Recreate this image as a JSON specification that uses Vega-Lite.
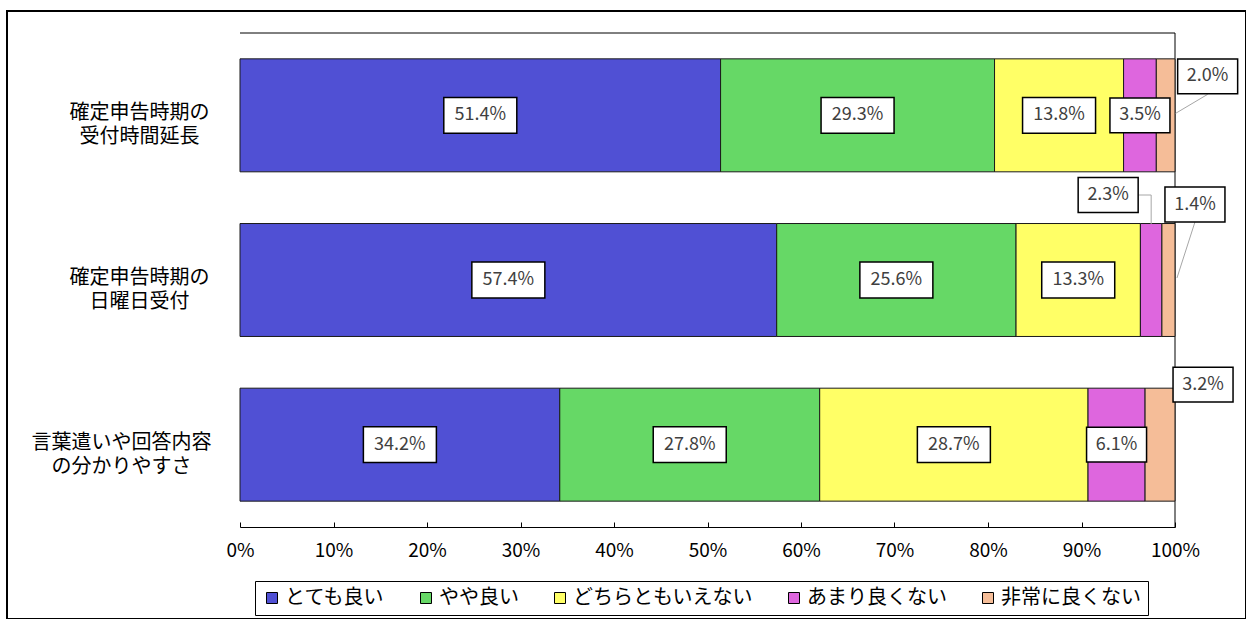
{
  "$schema": "https://vega.github.io/schema/vega-lite/v6.json",
  "width": 1239,
  "height": 608,
  "autosize": {"type": "none"},
  "padding": {"left": 7, "top": 11, "right": 0, "bottom": 0},
  "background": "#ffffff",
  "config": {
    "view": {"stroke": "#000000", "strokeWidth": 2},
    "font": "Noto Sans CJK JP"
  },
  "layer": [
    {
      "data": {"values": [{"k": 0}]},
      "layer": [
        {
          "mark": {"type": "rule", "color": "#000000", "strokeWidth": 1},
          "encoding": {
            "x": {"datum": 0, "type": "quantitative", "scale": {"domain": [0, 100], "range": [233, 1168], "nice": false, "zero": false}, "axis": null},
            "x2": {"datum": 100},
            "y": {"datum": 1, "type": "quantitative", "scale": {"domain": [0, 1], "range": [516, 22], "nice": false, "zero": false}, "axis": null}
          }
        },
        {
          "mark": {"type": "rule", "color": "#000000", "strokeWidth": 1},
          "encoding": {
            "x": {"datum": 100, "type": "quantitative", "scale": {"domain": [0, 100], "range": [233, 1168], "nice": false, "zero": false}, "axis": null},
            "y": {"datum": 0, "type": "quantitative", "scale": {"domain": [0, 1], "range": [516, 22], "nice": false, "zero": false}, "axis": null},
            "y2": {"datum": 1}
          }
        }
      ]
    },
    {
      "data": {
        "values": [
          {"q": 1, "cat": "確定申告時期の\n受付時間延長", "resp": "とても良い", "order": 1, "value": 51.4},
          {"q": 1, "cat": "確定申告時期の\n受付時間延長", "resp": "やや良い", "order": 2, "value": 29.3},
          {"q": 1, "cat": "確定申告時期の\n受付時間延長", "resp": "どちらともいえない", "order": 3, "value": 13.8},
          {"q": 1, "cat": "確定申告時期の\n受付時間延長", "resp": "あまり良くない", "order": 4, "value": 3.5},
          {"q": 1, "cat": "確定申告時期の\n受付時間延長", "resp": "非常に良くない", "order": 5, "value": 2.0},
          {"q": 2, "cat": "確定申告時期の\n日曜日受付", "resp": "とても良い", "order": 1, "value": 57.4},
          {"q": 2, "cat": "確定申告時期の\n日曜日受付", "resp": "やや良い", "order": 2, "value": 25.6},
          {"q": 2, "cat": "確定申告時期の\n日曜日受付", "resp": "どちらともいえない", "order": 3, "value": 13.3},
          {"q": 2, "cat": "確定申告時期の\n日曜日受付", "resp": "あまり良くない", "order": 4, "value": 2.3},
          {"q": 2, "cat": "確定申告時期の\n日曜日受付", "resp": "非常に良くない", "order": 5, "value": 1.4},
          {"q": 3, "cat": "言葉遣いや回答内容\nの分かりやすさ", "resp": "とても良い", "order": 1, "value": 34.2},
          {"q": 3, "cat": "言葉遣いや回答内容\nの分かりやすさ", "resp": "やや良い", "order": 2, "value": 27.8},
          {"q": 3, "cat": "言葉遣いや回答内容\nの分かりやすさ", "resp": "どちらともいえない", "order": 3, "value": 28.7},
          {"q": 3, "cat": "言葉遣いや回答内容\nの分かりやすさ", "resp": "あまり良くない", "order": 4, "value": 6.1},
          {"q": 3, "cat": "言葉遣いや回答内容\nの分かりやすさ", "resp": "非常に良くない", "order": 5, "value": 3.2}
        ]
      },
      "transform": [
        {"stack": "value", "groupby": ["q"], "sort": [{"field": "order", "order": "ascending"}], "as": ["v0", "v1"]},
        {"calculate": "(datum.v0 + datum.v1) / 2", "as": "mid"},
        {"calculate": "format(datum.value, '.1f') + '%'", "as": "lbl"}
      ],
      "encoding": {
        "y": {
          "field": "cat",
          "type": "nominal",
          "scale": {
            "type": "band",
            "domain": ["確定申告時期の\n受付時間延長", "確定申告時期の\n日曜日受付", "言葉遣いや回答内容\nの分かりやすさ"],
            "range": [22, 516],
            "paddingInner": 0.314,
            "paddingOuter": 0.157
          },
          "axis": {
            "title": null,
            "domain": false,
            "ticks": false,
            "tickSize": 0,
            "offset": -233,
            "labelAlign": "center",
            "labelBaseline": "middle",
            "labelPadding": {"condition": {"test": "indexof(datum.value, '言葉遣い') == 0", "value": 119}, "value": 101},
            "labelOffset": -2,
            "labelFont": "Noto Sans CJK JP",
            "labelFontSize": 20,
            "labelColor": "#000000",
            "labelLineHeight": 24,
            "labelLimit": 0,
            "labelExpr": "split(datum.label, '\\n')"
          }
        }
      },
      "layer": [
        {
          "mark": {"type": "bar", "stroke": "#1a1a1a", "strokeWidth": 1},
          "encoding": {
            "x": {
              "field": "v0",
              "type": "quantitative",
              "title": null,
              "scale": {"domain": [0, 100], "range": [233, 1168], "nice": false, "zero": false},
              "axis": {
                "title": null,
                "offset": -92,
                "values": [0, 10, 20, 30, 40, 50, 60, 70, 80, 90, 100],
                "labelExpr": "datum.value + '%'",
                "grid": false,
                "tickSize": -5,
                "tickColor": "#000000",
                "domainColor": "#000000",
                "labelPadding": 19,
                "labelFont": "Noto Sans CJK JP",
                "labelFontSize": 19,
                "labelColor": "#000000",
                "labelFlush": false,
                "labelOverlap": false
              }
            },
            "x2": {"field": "v1"},
            "color": {
              "field": "resp",
              "type": "nominal",
              "scale": {
                "domain": ["とても良い", "やや良い", "どちらともいえない", "あまり良くない", "非常に良くない"],
                "range": ["#5050d4", "#66d866", "#ffff66", "#de66de", "#f5bd98"]
              },
              "legend": {
                "title": null,
                "orient": "none",
                "legendX": 248,
                "legendY": 570,
                "direction": "horizontal",
                "padding": 7,
                "columnPadding": 31,
                "strokeColor": "#000000",
                "fillColor": "#ffffff",
                "symbolType": "square",
                "symbolSize": 121,
                "symbolStrokeColor": "#000000",
                "symbolStrokeWidth": 1,
                "labelFont": "Noto Sans CJK JP",
                "labelFontSize": 20,
                "labelColor": "#000000",
                "labelOffset": 3,
                "labelLimit": 0
              }
            }
          }
        },
        {
          "transform": [{"filter": "!(datum.order == 5 || (datum.q == 2 && datum.order == 4)) && datum.value >= 10"}],
          "mark": {"type": "point", "shape": "M-1,-0.49L1,-0.49L1,0.49L-1,0.49Z", "size": 5329, "filled": true, "fill": "#ffffff", "stroke": "#000000", "strokeWidth": 1.5, "opacity": 1, "fillOpacity": 1},
          "encoding": {"x": {"field": "mid", "type": "quantitative", "title": null}}
        },
        {
          "transform": [{"filter": "!(datum.order == 5 || (datum.q == 2 && datum.order == 4)) && datum.value < 10"}],
          "mark": {"type": "point", "shape": "M-1,-0.58L1,-0.58L1,0.58L-1,0.58Z", "size": 3600, "filled": true, "fill": "#ffffff", "stroke": "#000000", "strokeWidth": 1.5, "opacity": 1, "fillOpacity": 1},
          "encoding": {"x": {"field": "mid", "type": "quantitative", "title": null}}
        },
        {
          "transform": [{"filter": "!(datum.order == 5 || (datum.q == 2 && datum.order == 4))"}],
          "mark": {"type": "text", "align": "center", "baseline": "middle", "font": "Noto Sans CJK JP", "fontSize": 18, "color": "#404040"},
          "encoding": {"x": {"field": "mid", "type": "quantitative", "title": null}, "text": {"field": "lbl"}}
        },
        {
          "transform": [{"filter": "datum.q == 1 && datum.order == 5"}],
          "layer": [
            {
              "mark": {"type": "rule", "color": "#a6a6a6", "strokeWidth": 1, "xOffset": 10, "yOffset": -2, "x2Offset": 42, "y2Offset": -21},
              "encoding": {"x": {"field": "mid", "type": "quantitative", "title": null}, "x2": {"field": "mid"}, "y2": {"field": "cat"}}
            },
            {
              "mark": {"type": "point", "shape": "M-1,-0.58L1,-0.58L1,0.58L-1,0.58Z", "size": 3600, "filled": true, "fill": "#ffffff", "stroke": "#000000", "strokeWidth": 1.5, "opacity": 1, "fillOpacity": 1, "xOffset": 42, "yOffset": -39},
              "encoding": {"x": {"field": "mid", "type": "quantitative", "title": null}}
            },
            {
              "mark": {"type": "text", "align": "center", "baseline": "middle", "font": "Noto Sans CJK JP", "fontSize": 18, "color": "#404040", "xOffset": 42, "yOffset": -39},
              "encoding": {"x": {"field": "mid", "type": "quantitative", "title": null}, "text": {"field": "lbl"}}
            }
          ]
        },
        {
          "transform": [{"filter": "datum.q == 2 && datum.order == 4"}],
          "layer": [
            {
              "mark": {"type": "rule", "color": "#a6a6a6", "strokeWidth": 1, "xOffset": -13, "x2Offset": 0, "yOffset": -85},
              "encoding": {"x": {"field": "mid", "type": "quantitative", "title": null}, "x2": {"field": "mid"}}
            },
            {
              "mark": {"type": "rule", "color": "#a6a6a6", "strokeWidth": 1, "yOffset": -85, "y2Offset": -56},
              "encoding": {"x": {"field": "mid", "type": "quantitative", "title": null}, "y2": {"field": "cat"}}
            },
            {
              "mark": {"type": "point", "shape": "M-1,-0.58L1,-0.58L1,0.58L-1,0.58Z", "size": 3600, "filled": true, "fill": "#ffffff", "stroke": "#000000", "strokeWidth": 1.5, "opacity": 1, "fillOpacity": 1, "xOffset": -43, "yOffset": -85},
              "encoding": {"x": {"field": "mid", "type": "quantitative", "title": null}}
            },
            {
              "mark": {"type": "text", "align": "center", "baseline": "middle", "font": "Noto Sans CJK JP", "fontSize": 18, "color": "#404040", "xOffset": -43, "yOffset": -85},
              "encoding": {"x": {"field": "mid", "type": "quantitative", "title": null}, "text": {"field": "lbl"}}
            }
          ]
        },
        {
          "transform": [{"filter": "datum.q == 2 && datum.order == 5"}],
          "layer": [
            {
              "mark": {"type": "rule", "color": "#a6a6a6", "strokeWidth": 1, "xOffset": 8.5, "yOffset": -2, "x2Offset": 26.5, "y2Offset": -58},
              "encoding": {"x": {"field": "mid", "type": "quantitative", "title": null}, "x2": {"field": "mid"}, "y2": {"field": "cat"}}
            },
            {
              "mark": {"type": "point", "shape": "M-1,-0.58L1,-0.58L1,0.58L-1,0.58Z", "size": 3600, "filled": true, "fill": "#ffffff", "stroke": "#000000", "strokeWidth": 1.5, "opacity": 1, "fillOpacity": 1, "xOffset": 26.5, "yOffset": -75.5},
              "encoding": {"x": {"field": "mid", "type": "quantitative", "title": null}}
            },
            {
              "mark": {"type": "text", "align": "center", "baseline": "middle", "font": "Noto Sans CJK JP", "fontSize": 18, "color": "#404040", "xOffset": 26.5, "yOffset": -75.5},
              "encoding": {"x": {"field": "mid", "type": "quantitative", "title": null}, "text": {"field": "lbl"}}
            }
          ]
        },
        {
          "transform": [{"filter": "datum.q == 3 && datum.order == 5"}],
          "layer": [
            {
              "mark": {"type": "point", "shape": "M-1,-0.58L1,-0.58L1,0.58L-1,0.58Z", "size": 3600, "filled": true, "fill": "#ffffff", "stroke": "#000000", "strokeWidth": 1.5, "opacity": 1, "fillOpacity": 1, "xOffset": 43, "yOffset": -60},
              "encoding": {"x": {"field": "mid", "type": "quantitative", "title": null}}
            },
            {
              "mark": {"type": "text", "align": "center", "baseline": "middle", "font": "Noto Sans CJK JP", "fontSize": 18, "color": "#404040", "xOffset": 43, "yOffset": -60},
              "encoding": {"x": {"field": "mid", "type": "quantitative", "title": null}, "text": {"field": "lbl"}}
            }
          ]
        }
      ]
    }
  ],
  "resolve": {"scale": {"y": "independent"}, "axis": {"x": "independent", "y": "independent"}}
}
